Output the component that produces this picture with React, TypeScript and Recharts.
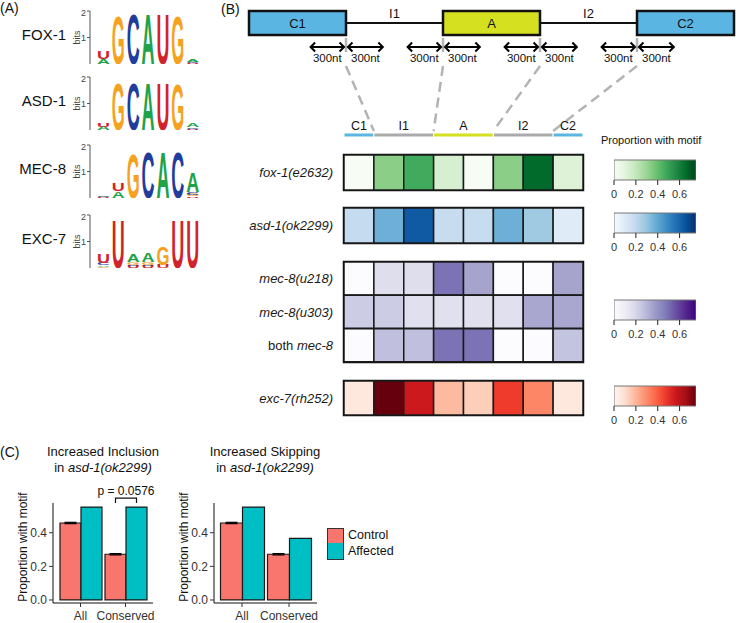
import React from "react";
import {
  BarChart,
  Bar,
  XAxis,
  YAxis,
  Cell,
  ComposedChart,
  Scatter,
  ReferenceArea,
  ReferenceLine,
  LabelList,
  ErrorBar,
  Legend,
} from "recharts";

const FONT = "'Liberation Sans', Arial, Helvetica, sans-serif";

// ---- (A) sequence logos: each position is a stack of [letter, bits], bottom to top
const fox1Logo = [
  [["A", 0.2], ["U", 0.3]],
  [["G", 1.85]],
  [["C", 1.9]],
  [["A", 1.9]],
  [["U", 1.9]],
  [["G", 1.85]],
  [["U", 0.04], ["C", 0.05], ["A", 0.1]],
];
const asd1Logo = [
  [["A", 0.12], ["U", 0.15]],
  [["G", 1.8]],
  [["C", 1.8]],
  [["A", 1.8]],
  [["U", 1.8]],
  [["G", 1.75]],
  [["U", 0.05], ["C", 0.06], ["A", 0.15]],
];
const mec8Logo = [
  [["U", 0.02], ["C", 0.02], ["A", 0.03]],
  [["A", 0.25], ["U", 0.28]],
  [["G", 1.7]],
  [["C", 1.75]],
  [["A", 1.75]],
  [["C", 1.75]],
  [["U", 0.06], ["G", 0.07], ["C", 0.1], ["A", 0.75]],
];
const exc7Logo = [
  [["G", 0.05], ["A", 0.06], ["C", 0.07], ["U", 0.35]],
  [["U", 1.88]],
  [["U", 0.07], ["C", 0.05], ["G", 0.1], ["A", 0.32]],
  [["U", 0.07], ["C", 0.05], ["G", 0.1], ["A", 0.33]],
  [["U", 0.12], ["G", 0.7]],
  [["U", 1.88]],
  [["U", 1.88]],
];
const logoNames = ["FOX-1", "ASD-1", "MEC-8", "EXC-7"];
const logos = [fox1Logo, asd1Logo, mec8Logo, exc7Logo];
const LETTER_COLORS: Record<string, string> = {
  A: "#1fa34a",
  C: "#213d9c",
  G: "#f5a21f",
  U: "#d1232a",
};

// ---- (B) gene model and heatmaps
const geneParts = ["C1", "I1", "A", "I2", "C2"];
const windowLabel = "300nt";
const windowUnits = 0.37;
const regionCols = ["C1", "I1", "I1", "A", "A", "I2", "I2", "C2"];

const foxRow = [0, 0.33, 0.47, 0.14, 0, 0.33, 0.66, 0.12];
const asdRow = [0.19, 0.37, 0.63, 0.18, 0.18, 0.37, 0.28, 0.09];
const mec218Row = [0, 0.17, 0.17, 0.49, 0.35, 0, 0, 0.35];
const mec303Row = [0.23, 0.23, 0.16, 0.16, 0.16, 0.16, 0.34, 0.34];
const mecBothRow = [0, 0.27, 0.27, 0.49, 0.49, 0, 0, 0.26];
const exc7Row = [0.06, 0.75, 0.56, 0.19, 0.14, 0.47, 0.31, 0.06];
const legendTicks = [0, 0.2, 0.4, 0.6];
const scaleMax = 0.75;

const GREENS = ["#f7fcf5", "#e5f5e0", "#c7e9c0", "#a1d99b", "#74c476", "#41ab5d", "#238b45", "#006d2c", "#00441b"];
const BLUES = ["#f7fbff", "#deebf7", "#c6dbef", "#9ecae1", "#6baed6", "#4292c6", "#2171b5", "#08519c", "#08306b"];
const PURPLES = ["#fcfbfd", "#efedf5", "#dadaeb", "#bcbddc", "#9e9ac8", "#807dba", "#6a51a3", "#54278f", "#3f007d"];
const REDS = ["#fff5f0", "#fee0d2", "#fcbba1", "#fc9272", "#fb6a4a", "#ef3b2c", "#cb181d", "#a50f15", "#67000d"];

// ---- (C) motif proportions
const catLabels = ["All", "Conserved"];
const controlVals = [0.458, 0.272];
const controlErr = [0.004, 0.004];
const inclusionAffected = [0.553, 0.553];
const skippingAffected = [0.553, 0.366];
const pValue = "p = 0.0576";
const seriesOrder = ["Control", "Affected"];

// layout
const GENE_X0 = 249;
const GENE_UNIT = 97;
const HEAT_X0 = 344;
const HEAT_W = 239;
const colToGene = (c: number) => (HEAT_X0 - GENE_X0 + (c * HEAT_W) / regionCols.length) / GENE_UNIT;

const EXON_BLUE = "#5bb5e2";
const EXON_YELLOW = "#d4e020";
const INTRON_GREY = "#aaaaaa";
const partColor = (name: string) => (name === "A" ? EXON_YELLOW : name.startsWith("C") ? EXON_BLUE : INTRON_GREY);

function hexToRgb(h: string) {
  const n = parseInt(h.slice(1), 16);
  return [(n >> 16) & 255, (n >> 8) & 255, n & 255];
}
function colorAt(pal: string[], v: number) {
  const t = Math.max(0, Math.min(1, v / scaleMax)) * (pal.length - 1);
  const i = Math.min(pal.length - 2, Math.floor(t));
  const f = t - i;
  const a = hexToRgb(pal[i]);
  const b = hexToRgb(pal[i + 1]);
  const c = a.map((x, k) => Math.round(x + (b[k] - x) * f));
  return `rgb(${c[0]},${c[1]},${c[2]})`;
}

const Abs = ({ left, top, children }: any) => (
  <div style={{ position: "absolute", left, top }}>{children}</div>
);

// ---------- logos
const letterShape = (slot: number) => (p: any) => {
  const { x, y, width, height, payload } = p;
  const letter = payload && payload[`l${slot}`];
  if (!letter || !(height > 0.2)) return null;
  const W = 70;
  return (
    <text
      x={0}
      y={0}
      fontSize={100}
      fontWeight="bold"
      fontFamily={FONT}
      fill={LETTER_COLORS[letter]}
      textLength={W}
      lengthAdjust="spacingAndGlyphs"
      transform={`translate(${x},${y + height}) scale(${width / W},${height / 72})`}
    >
      {letter}
    </text>
  );
};

function Logo({ stacks, name, top }: any) {
  const data = stacks.map((stack: any[], i: number) => {
    const row: any = { pos: i };
    stack.forEach(([l, b]: any, k: number) => {
      row[`s${k}`] = b;
      row[`l${k}`] = l;
    });
    return row;
  });
  return (
    <>
      <div
        style={{
          position: "absolute",
          left: 0,
          width: 66,
          top: top + 18,
          textAlign: "right",
          fontSize: 15,
          lineHeight: "18px",
          color: "#111",
        }}
      >
        {name}
      </div>
      <Abs left={62} top={top}>
        <BarChart width={140} height={60} data={data} margin={{ top: 3, right: 2, bottom: 4, left: 0 }} barCategoryGap={1}>
          <XAxis dataKey="pos" hide padding={{ left: 6, right: 0 }} />
          <YAxis
            domain={[0, 2]}
            allowDataOverflow
            ticks={[0, 1, 2]}
            width={28}
            tickSize={3}
            tickMargin={1}
            tick={{ fontSize: 9, fill: "#444", fontFamily: FONT }}
            axisLine={{ stroke: "#555" }}
            tickLine={{ stroke: "#555" }}
            label={(lp: any) => {
              const vb = lp.viewBox || {};
              return (
                <text
                  transform={`translate(${(vb.x || 0) + 18},${(vb.y || 0) + (vb.height || 0) / 2}) rotate(-90)`}
                  textAnchor="middle"
                  fontSize={9}
                  fill="#444"
                  fontFamily={FONT}
                >
                  bits
                </text>
              );
            }}
          />
          {[0, 1, 2, 3].map((k) => (
            <Bar key={k} dataKey={`s${k}`} stackId="a" isAnimationActive={false} shape={letterShape(k)} />
          ))}
        </BarChart>
      </Abs>
    </>
  );
}

// ---------- gene diagram
const ArrowShape = (p: any) => {
  const { x1, y1, x2 } = p;
  if (x1 == null || x2 == null) return null;
  const y = y1;
  return (
    <g>
      <line x1={x1 + 0.5} y1={y} x2={x2 - 0.5} y2={y} stroke="#000" strokeWidth={2} />
      <path d={`M${x1 + 5},${y - 4.5} L${x1 + 0.5},${y} L${x1 + 5},${y + 4.5}`} fill="none" stroke="#000" strokeWidth={2} />
      <path d={`M${x2 - 5},${y - 4.5} L${x2 - 0.5},${y} L${x2 - 5},${y + 4.5}`} fill="none" stroke="#000" strokeWidth={2} />
      <text x={(x1 + x2) / 2} y={y + 15} textAnchor="middle" fontSize={11.5} fill="#111" fontFamily={FONT}>
        {windowLabel}
      </text>
    </g>
  );
};

function GeneDiagram() {
  const boundaries = geneParts.slice(1).map((_, i) => i + 1);
  const centers = geneParts.map((name, i) => ({ x: i + 0.5, y: 23, name }));
  return (
    <Abs left={232} top={0}>
      <ComposedChart width={504} height={140} data={centers} margin={{ top: 0, right: 2, bottom: 0, left: GENE_X0 - 232 }}>
        <XAxis type="number" dataKey="x" domain={[0, geneParts.length]} allowDataOverflow hide />
        <YAxis type="number" dataKey="y" domain={[0, 140]} allowDataOverflow reversed hide />
        <Scatter dataKey="y" fill="none" isAnimationActive={false} shape={() => <g />} />
        {geneParts.map((name, i) =>
          i % 2 === 1 ? (
            <ReferenceLine
              key={`l${i}`}
              segment={[
                { x: i, y: 23 },
                { x: i + 1, y: 23 },
              ]}
              stroke="#111"
              strokeWidth={2}
              ifOverflow="visible"
            />
          ) : null
        )}
        {geneParts.map((name, i) =>
          i % 2 === 1 ? (
            <ReferenceArea
              key={`t${i}`}
              x1={i}
              x2={i + 1}
              y1={6}
              y2={20}
              fill="none"
              stroke="none"
              ifOverflow="visible"
              label={{ value: name, position: "center", fontSize: 13, fill: "#111", fontFamily: FONT }}
            />
          ) : (
            <ReferenceArea
              key={`b${i}`}
              x1={i}
              x2={i + 1}
              y1={11}
              y2={35}
              fill={partColor(name)}
              fillOpacity={1}
              stroke="#111"
              strokeWidth={2.5}
              ifOverflow="visible"
              label={{ value: name, position: "center", fontSize: 13, fill: "#111", fontFamily: FONT }}
            />
          )
        )}
        {boundaries.map((b) => (
          <ReferenceLine
            key={`g${b}`}
            segment={[
              { x: b, y: 38 },
              { x: b, y: 52 },
            ]}
            stroke="#b5b5b5"
            strokeWidth={2.5}
            ifOverflow="visible"
          />
        ))}
        {boundaries.map((b) => (
          <ReferenceLine
            key={`al${b}`}
            segment={[
              { x: b - windowUnits, y: 47 },
              { x: b - 0.015, y: 47 },
            ]}
            ifOverflow="visible"
            shape={ArrowShape}
          />
        ))}
        {boundaries.map((b) => (
          <ReferenceLine
            key={`ar${b}`}
            segment={[
              { x: b + 0.015, y: 47 },
              { x: b + windowUnits + 0.015, y: 47 },
            ]}
            ifOverflow="visible"
            shape={ArrowShape}
          />
        ))}
        {boundaries.map((b) => (
          <ReferenceLine
            key={`d${b}`}
            segment={[
              { x: b, y: 66 },
              { x: colToGene(2 * b - 1), y: 131 },
            ]}
            stroke="#b3b3b3"
            strokeWidth={2.5}
            strokeDasharray="10 6"
            ifOverflow="visible"
          />
        ))}
      </ComposedChart>
    </Abs>
  );
}

function RegionBar() {
  const segs: { name: string; n: number }[] = [];
  regionCols.forEach((c) => {
    const last = segs[segs.length - 1];
    if (last && last.name === c) last.n += 1;
    else segs.push({ name: c, n: 1 });
  });
  const row: any = { r: "region" };
  segs.forEach((s, k) => {
    row[`w${k}`] = s.n;
    row[`n${k}`] = s.name;
  });
  return (
    <Abs left={232} top={116}>
      <BarChart layout="vertical" width={354} height={21} data={[row]} margin={{ top: 17, right: 3, bottom: 0, left: 112 }} barCategoryGap={0}>
        <XAxis type="number" domain={[0, regionCols.length]} allowDataOverflow hide />
        <YAxis type="category" dataKey="r" hide />
        {segs.map((s, k) => (
          <Bar key={k} dataKey={`w${k}`} stackId="r" fill={partColor(s.name)} stroke="#fff" strokeWidth={1} isAnimationActive={false}>
            <LabelList dataKey={`n${k}`} position="top" offset={3} fontSize={12.5} fill="#111" fontFamily={FONT} />
          </Bar>
        ))}
      </BarChart>
    </Abs>
  );
}

const RowTick = (p: any) => {
  const { x, y, payload } = p;
  const label = payload.value as string;
  const common = { x, y, dy: 4.5, textAnchor: "end" as const, fontSize: 13, fill: "#1a1a1a", fontFamily: FONT };
  if (label.startsWith("both ")) {
    return (
      <text {...common}>
        {"both "}
        <tspan fontStyle="italic">{label.slice(5)}</tspan>
      </text>
    );
  }
  return (
    <text {...common} fontStyle="italic">
      {label}
    </text>
  );
};

function HeatRows({ rows, pal, top, height }: any) {
  const data = rows.map((r: any) => {
    const d: any = { row: r.label };
    regionCols.forEach((_, j) => (d[`w${j}`] = 1));
    return d;
  });
  return (
    <Abs left={232} top={top - 2}>
      <BarChart layout="vertical" width={354} height={height + 4} data={data} margin={{ top: 2, right: 3, bottom: 2, left: 0 }} barCategoryGap={0}>
        <XAxis type="number" domain={[0, regionCols.length]} allowDataOverflow hide />
        <YAxis type="category" dataKey="row" width={112} axisLine={false} tickLine={false} tickSize={0} tickMargin={11} tick={<RowTick />} />
        {regionCols.map((_, j) => (
          <Bar key={j} dataKey={`w${j}`} stackId="h" stroke="#1a1a1a" strokeWidth={1.5} isAnimationActive={false}>
            {rows.map((r: any, i: number) => (
              <Cell key={i} fill={colorAt(pal, r.values[j])} />
            ))}
          </Bar>
        ))}
        <ReferenceArea x1={0} x2={regionCols.length} fill="none" stroke="#111" strokeWidth={2.5} ifOverflow="visible" />
      </BarChart>
    </Abs>
  );
}

function ColorLegend({ id, pal, top }: any) {
  return (
    <Abs left={605} top={top - 2}>
      <BarChart
        layout="vertical"
        width={110}
        height={46}
        data={[{ k: "scale", v: scaleMax }]}
        margin={{ top: 2, right: 19, bottom: 0, left: 9 }}
        barCategoryGap={0}
      >
        <defs>
          <linearGradient id={id} x1="0" y1="0" x2="1" y2="0">
            {pal.map((c: string, i: number) => (
              <stop key={i} offset={i / (pal.length - 1)} stopColor={c} />
            ))}
          </linearGradient>
        </defs>
        <XAxis
          type="number"
          domain={[0, scaleMax]}
          allowDataOverflow
          ticks={legendTicks}
          axisLine={false}
          tickSize={5}
          tickMargin={5}
          height={24}
          tickLine={{ stroke: "#222" }}
          tick={{ fontSize: 11, fill: "#333", fontFamily: FONT }}
          tickFormatter={(v: number) => (v === 0 ? "0" : String(v))}
        />
        <YAxis type="category" dataKey="k" hide />
        <Bar dataKey="v" fill={`url(#${id})`} stroke="#777" strokeWidth={1} isAnimationActive={false} />
      </BarChart>
    </Abs>
  );
}

// ---------- (C)
const PBracket = (p: any) => {
  const { x, y, width, index } = p;
  if (index !== 1) return null;
  const a = x - width / 2;
  const b = x + width / 2;
  const top = y - 9;
  return (
    <g>
      <path d={`M${a},${top + 5} L${a},${top} L${b},${top} L${b},${top + 5}`} fill="none" stroke="#111" strokeWidth={1.2} />
      <text x={(a + b) / 2} y={top - 3} textAnchor="middle" fontSize={12} fill="#111" fontFamily={FONT}>
        {pValue}
      </text>
    </g>
  );
};

const CLegend = (p: any) => {
  const items = [...(p.payload || [])].sort(
    (a: any, b: any) => seriesOrder.indexOf(a.value) - seriesOrder.indexOf(b.value)
  );
  return (
    <div style={{ fontFamily: FONT }}>
      {items.map((it: any, i: number) => (
        <div key={i} style={{ display: "flex", alignItems: "center", height: 15.5 }}>
          <div
            style={{
              width: 15,
              height: i === 0 ? 14.5 : 15.5,
              background: it.color,
              border: "1px solid #333",
              borderTop: i === 0 ? "1px solid #333" : "none",
              boxSizing: "content-box",
            }}
          />
          <span style={{ marginLeft: 4, fontSize: 12.5, color: "#111", lineHeight: "15px" }}>{it.value}</span>
        </div>
      ))}
    </div>
  );
};

function MotifBars({ affected, left, yAxisWidth, width, padding, showP, withLegend }: any) {
  const data = catLabels.map((c, i) => ({ cat: c, control: controlVals[i], err: controlErr[i], affected: affected[i] }));
  return (
    <Abs left={left} top={480}>
      <BarChart width={width} height={143} data={data} margin={{ top: 23, right: 3, bottom: 0, left: 0 }} barCategoryGap={2} barGap={0}>
        <XAxis
          dataKey="cat"
          padding={padding}
          height={20}
          tickSize={4}
          tickMargin={4}
          axisLine={{ stroke: "#111" }}
          tickLine={{ stroke: "#333" }}
          tick={{ fontSize: 12, fill: "#333", fontFamily: FONT }}
        />
        <YAxis
          domain={[-0.018, 0.577]}
          allowDataOverflow
          ticks={[0, 0.2, 0.4]}
          tickFormatter={(v: number) => v.toFixed(1)}
          width={yAxisWidth}
          tickSize={4}
          tickMargin={2}
          axisLine={{ stroke: "#111" }}
          tickLine={{ stroke: "#333" }}
          tick={{ fontSize: 12, fill: "#333", fontFamily: FONT }}
          label={(lp: any) => {
            const vb = lp.viewBox || {};
            return (
              <text
                transform={`translate(${(vb.x || 0) + yAxisWidth - 26},${(vb.y || 0) + (vb.height || 0) / 2 - 6}) rotate(-90)`}
                textAnchor="middle"
                fontSize={12}
                fill="#111"
                fontFamily={FONT}
              >
                Proportion with motif
              </text>
            );
          }}
        />
        <Bar dataKey="control" name="Control" fill="#f8766d" stroke="#1a1a1a" strokeWidth={1.2} isAnimationActive={false}>
          <ErrorBar dataKey="err" width={6} stroke="#000" strokeWidth={1.2} direction="y" />
        </Bar>
        <Bar dataKey="affected" name="Affected" fill="#00bfc4" stroke="#1a1a1a" strokeWidth={1.2} isAnimationActive={false}>
          {showP ? <LabelList dataKey="affected" content={PBracket} /> : null}
        </Bar>
        {withLegend ? (
          <Legend
            layout="vertical"
            align="center"
            verticalAlign="middle"
            content={CLegend}
            wrapperStyle={{ left: 167, top: 48, width: 70, height: 32 }}
          />
        ) : null}
      </BarChart>
    </Abs>
  );
}

const Title = ({ cx, line1 }: any) => (
  <div
    style={{
      position: "absolute",
      left: cx - 80,
      width: 160,
      top: 444,
      textAlign: "center",
      fontSize: 13,
      lineHeight: "16px",
      color: "#111",
    }}
  >
    <div>{line1}</div>
    <div>
      in <i>asd-1(ok2299)</i>
    </div>
  </div>
);

export default function App() {
  return (
    <div
      style={{
        position: "absolute",
        left: 0,
        top: 0,
        width: 736,
        height: 623,
        background: "#fff",
        fontFamily: FONT,
        overflow: "hidden",
      }}
    >
      <div style={{ position: "absolute", left: 0, top: 0, fontSize: 14, lineHeight: "16px", color: "#111" }}>(A)</div>
      <div style={{ position: "absolute", left: 221, top: 1, fontSize: 14, lineHeight: "16px", color: "#111" }}>(B)</div>
      <div style={{ position: "absolute", left: 0, top: 444, fontSize: 14, lineHeight: "16px", color: "#111" }}>(C)</div>

      {logos.map((s, i) => (
        <Logo key={i} stacks={s} name={logoNames[i]} top={[8, 74, 142, 212][i]} />
      ))}

      <GeneDiagram />
      <RegionBar />

      <div style={{ position: "absolute", left: 601, top: 134, fontSize: 11, color: "#111" }}>Proportion with motif</div>

      <HeatRows rows={[{ label: "fox-1(e2632)", values: foxRow }]} pal={GREENS} top={155} height={35} />
      <HeatRows rows={[{ label: "asd-1(ok2299)", values: asdRow }]} pal={BLUES} top={208} height={35} />
      <HeatRows
        rows={[
          { label: "mec-8(u218)", values: mec218Row },
          { label: "mec-8(u303)", values: mec303Row },
          { label: "both mec-8", values: mecBothRow },
        ]}
        pal={PURPLES}
        top={262}
        height={100}
      />
      <HeatRows rows={[{ label: "exc-7(rh252)", values: exc7Row }]} pal={REDS} top={381} height={34} />

      <ColorLegend id="gGreen" pal={GREENS} top={160} />
      <ColorLegend id="gBlue" pal={BLUES} top={213} />
      <ColorLegend id="gPurple" pal={PURPLES} top={300} />
      <ColorLegend id="gRed" pal={REDS} top={386} />

      <Title cx={103} line1="Increased Inclusion" />
      <Title cx={265} line1="Increased Skipping" />
      <MotifBars affected={inclusionAffected} left={0} yAxisWidth={53} width={156} padding={{ left: 5, right: 5 }} showP />
      <MotifBars affected={skippingAffected} left={160} yAxisWidth={54} width={160} padding={{ left: 4.5, right: 4.5 }} withLegend />
    </div>
  );
}
